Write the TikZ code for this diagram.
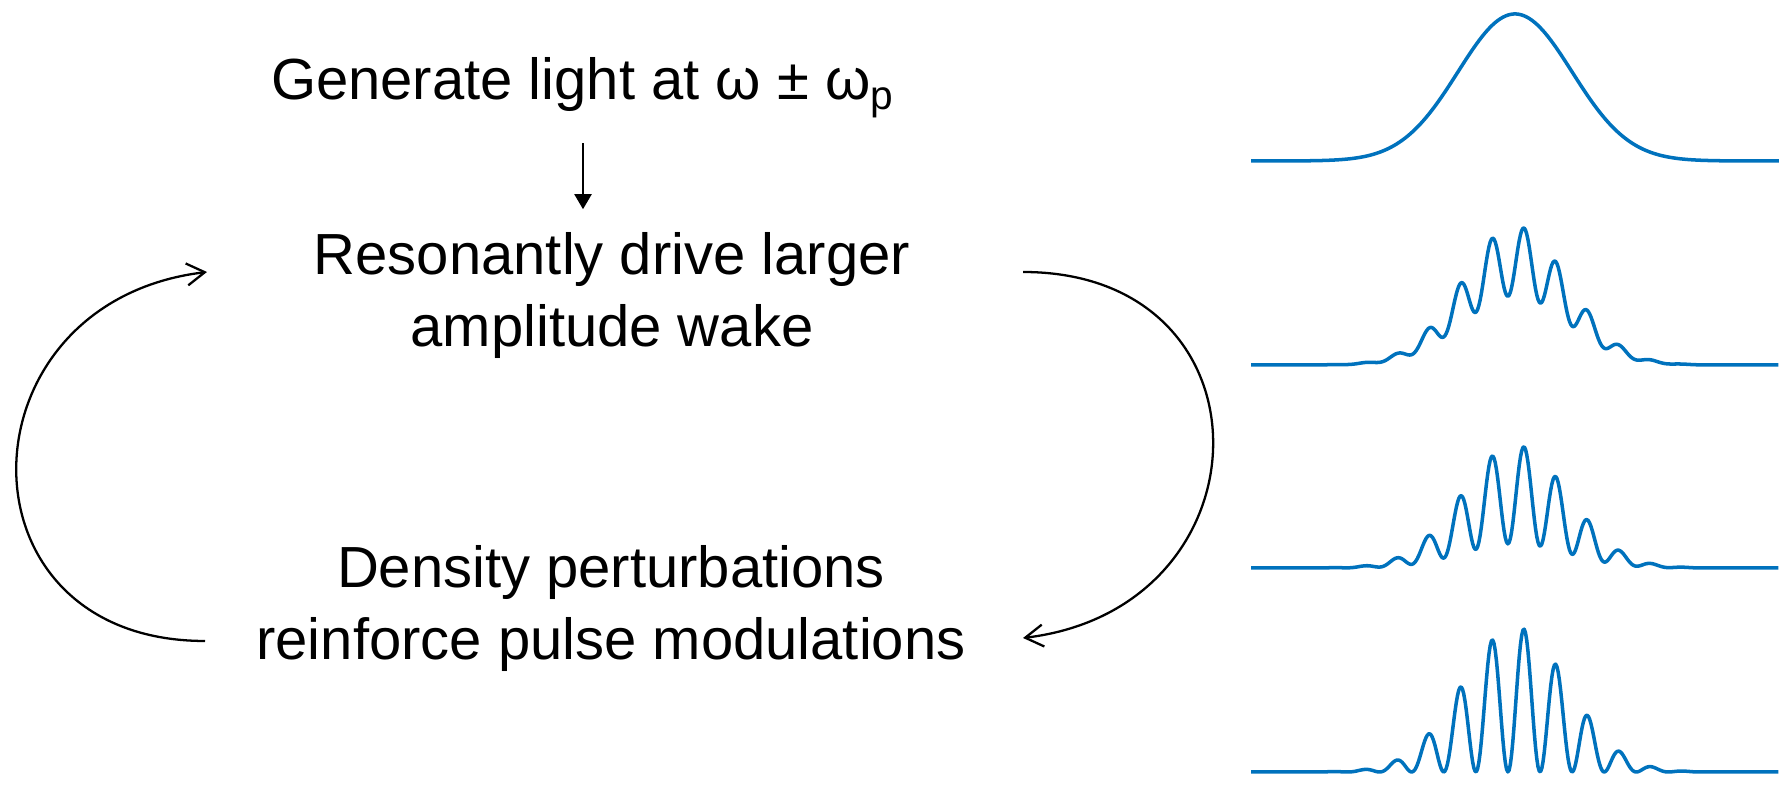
\documentclass[tikz,border=0pt]{standalone}
\usepackage{fontspec}
\setmainfont{Liberation Sans}
\usetikzlibrary{arrows.meta, positioning}
\definecolor{WaveBlue}{RGB}{0,114,189}

\begin{document}
\begin{tikzpicture}[
  font=\fontsize{16.5pt}{20.5pt}\selectfont,
  txt/.style={align=center, inner sep=0pt},
  arr/.style={-{Triangle[length=1.5mm, width=1.7mm]}, line width=0.6pt},
  cyc/.style={-{Straight Barb[length=1.8mm, width=2.2mm]}, line width=0.65pt},
  pulse/.style={WaveBlue, line width=1pt, line join=round}
]
  \useasboundingbox (0,0) rectangle (17.87,7.86);

  % Feedback loop
  \node[txt, anchor=base] (gen) at (5.83, 6.86) {Generate light at ω ± ω\textsubscript{p}};
  \node[txt, anchor=base] (wake) at (6.12, 4.39) {Resonantly drive larger\\amplitude wake};
  \node[txt, anchor=base] (dens) at (6.11, 1.26) {Density perturbations\\reinforce pulse modulations};
  \coordinate (wakeL) at (2.07, 5.14);
  \coordinate (wakeR) at (10.23, 5.14);
  \coordinate (densL) at (2.05, 1.45);
  \coordinate (densR) at (10.23, 1.48);
  \draw[arr, shorten <=0.25cm, shorten >=0.23cm] (gen.south) -- (gen.south |- wake.north);
  \draw[cyc] (wakeR) .. controls +(2.56,0) and +(2.5,0.3) .. (densR);
  \draw[cyc] (densL) .. controls +(-2.55,0) and +(-2.5,-0.3) .. (wakeL);

  % Pulses
  \draw[pulse] plot[domain=12.51:17.79, samples=200] (\x, {6.25 + 1.47*exp(-(\x-15.15)*(\x-15.15)/0.6498)});
  \foreach \yb/\amp/\m in {4.21/1.39/0.335, 2.18/1.23/0.67, 0.14/1.45/1.0}
    \draw[pulse] plot[domain=12.51:17.79, samples=420]
      (\x, {\yb + \amp*exp(-(\x-15.15)*(\x-15.15)/0.5618)*(1+\m*cos(1121.5*(\x-15.24)))/(1+\m)});
\end{tikzpicture}
\end{document}
